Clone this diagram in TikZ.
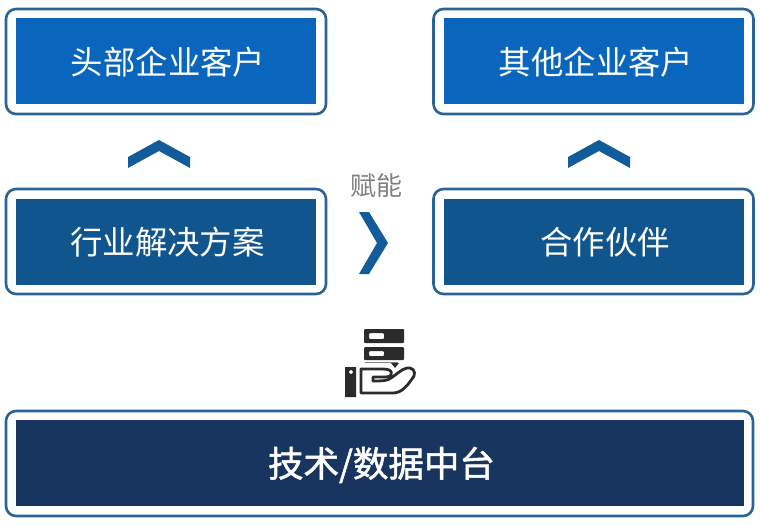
\documentclass[tikz,border=0pt]{standalone}
\usepackage{fontspec}
\newfontfamily\cjk{Noto Sans CJK SC}
\newfontfamily\cjkb[FakeBold=1.5]{Noto Sans CJK SC}
\usetikzlibrary{positioning}
\definecolor{framecol}{HTML}{2A6496}
\definecolor{topcol}{HTML}{0A66BC}
\definecolor{midcol}{HTML}{11558F}
\definecolor{basecol}{HTML}{17355F}
\definecolor{chevcol}{HTML}{135C9B}
\definecolor{iconcol}{HTML}{2B2B2B}
\tikzset{%
	frm/.style = {name = #1, draw = framecol, line width = 2.6pt, rounded corners = 10pt, minimum width = 320pt, minimum height = 105pt, inner sep = 0pt},
	pnl/.style = {name = #1, minimum width = 300pt, minimum height = 86pt, inner sep = 0pt},
	lbl/.style = {name = #1, inner sep = 0pt, text = white, font = \cjk\fontsize{32.4}{36}\selectfont},
	chev/.style = {fill = chevcol, draw = none},
	icon/.style = {fill = iconcol, draw = none},
	hand/.style = {draw = iconcol, line width = 2.8pt, line join = round, line cap = round}
}
\begin{document}
\begin{tikzpicture}[x=1pt,y=-1pt]
			\useasboundingbox (0,0) rectangle (760,525);
			\node [frm = {fTopL}] at (166,61.5) {};
			\node [frm = {fTopR}] at (593.5,61.5) {};
			\node [frm = {fMidL}] at (166,241.5) {};
			\node [frm = {fMidR}] at (593.5,241.5) {};
			\node [frm = {fBase}, minimum width = 747pt] at (379.5,463.5) {};
			\node [pnl = {topL}, fill = topcol] at (166,61) {};
			\node [pnl = {topR}, fill = topcol] at (593.5,61) {};
			\node [pnl = {midL}, fill = midcol] at (166,241.5) {};
			\node [pnl = {midR}, fill = midcol] at (593.5,241.5) {};
			\node [pnl = {base}, fill = basecol, minimum width = 728pt] at (380,463) {};
			\node [lbl = {tTopL}] at (168,62) {头部企业客户};
			\node [lbl = {tTopR}] at (596,62) {其他企业客户};
			\node [lbl = {tMidL}] at (167.5,242) {行业解决方案};
			\node [lbl = {tMidR}] at (605,242) {合作伙伴};
			\node [lbl = {tBase}, font = \cjkb\fontsize{35.5}{40}\selectfont] at (381.5,465) {技术/数据中台};
			\node [name = enable, text = black!50, inner sep = 0pt, font = \cjk\fontsize{26}{28}\selectfont] at (376,186) {赋能};
			% chevrons
			\fill [chev] (128,157) -- (159,140) -- (190,157) -- (190,168) -- (159,151) -- (128,168) -- cycle;
			\fill [chev] (568,157) -- (599,140) -- (630,157) -- (630,168) -- (599,151) -- (568,168) -- cycle;
			\fill [chev] (359,212) -- (369,212) -- (388,243) -- (369,274) -- (359,274) -- (377,243) -- cycle;
			% icon
			\fill [icon, rounded corners = 1pt, even odd rule] (364,329) rectangle (404,343) (369,333) rectangle (384,339);
			\fill [icon, rounded corners = 1pt, even odd rule] (364,347) rectangle (404,360) (369,351) rectangle (384,356);
			\draw [black!50, line width = 1pt] (365,362) -- (398,362);
			\fill [icon, even odd rule] (345,367) rectangle (356,397) (351,372) circle (2pt);
			\fill [icon] (391,363) -- (399,363) -- (395,368) -- cycle;
			\draw [hand] (361,369) -- (361,393) -- (393,393) .. controls (402,393) and (408,385) .. (414,376) .. controls (416,371) and (412,367) .. (407,368) .. controls (402,369) and (397,374) .. (391,378) .. controls (387,381) and (382,381) .. (373,381);
			\draw [hand] (361,369) -- (382,369) .. controls (388,369) and (393,370) .. (391,375) .. controls (390,377) and (386,377) .. (382,377) -- (373,377) -- (373,381);
			\end{tikzpicture}
\end{document}
